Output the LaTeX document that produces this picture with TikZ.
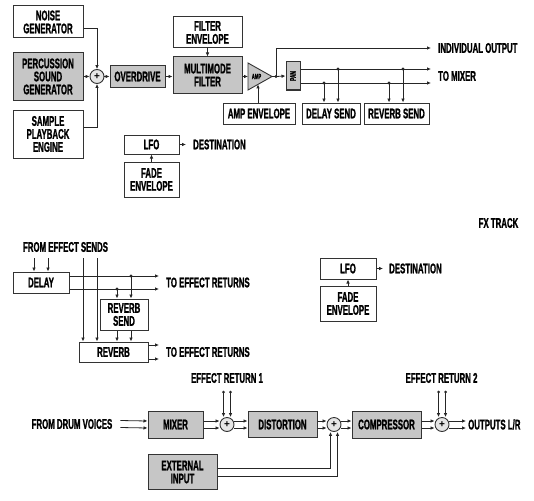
\documentclass[tikz,border=0pt]{standalone}
\usepackage{fontspec}
\newfontfamily\labfont{Liberation Sans Bold}[FakeStretch=0.56, FakeBold=1.2]
\newfontfamily\plusfont{Liberation Sans Bold}
\newcommand\mylab{\labfont\fontsize{14}{13}\selectfont}
\newcommand\mysmall{\labfont\fontsize{8.5}{8.5}\selectfont}
\usetikzlibrary{arrows.meta}
\tikzset{
  box/.style={draw=black!80, line width=1pt, inner sep=0pt, align=center, font=\mylab, fill=white},
  gbox/.style={box, fill=gray!45},
  sumnode/.style={circle, draw=black!80, line width=0.9pt, fill=gray!20, minimum size=14pt, inner sep=0pt, font=\plusfont\fontsize{10}{10}\selectfont},
  lbl/.style={inner sep=0pt, font=\mylab, align=center},
  arr/.style={-{Latex[length=4pt,width=3.6pt]}, line width=0.8pt, draw=black!85},
  ln/.style={line width=0.8pt, draw=black!85},
  dotc/.style={fill=black!85}
}
\begin{document}
\begin{tikzpicture}[x=1pt,y=-1pt]
\useasboundingbox (0,0) rectangle (534,500);
% ---------------- top voice section
\node[box, minimum width=70pt, minimum height=32pt] (noise) at (48,22) {NOISE\\GENERATOR};
\node[gbox, minimum width=70pt, minimum height=48pt] (perc) at (48,76.5) {PERCUSSION\\SOUND\\GENERATOR};
\node[box, minimum width=70pt, minimum height=48pt] (sample) at (48,134) {SAMPLE\\PLAYBACK\\ENGINE};
\node[sumnode] (sum1) at (97,76.5) {+};
\node[gbox, minimum width=55pt, minimum height=22pt] (od) at (137.5,76.5) {OVERDRIVE};
\node[gbox, minimum width=69pt, minimum height=36pt] (filt) at (207.5,75) {MULTIMODE\\FILTER};
\node[box, minimum width=69pt, minimum height=31pt] (fenv) at (207.5,32.5) {FILTER\\ENVELOPE};
\coordinate (ampin) at (248,76.5);
\coordinate (amptip) at (272,76.5);
\draw[line width=0.9pt, draw=black!80, fill=gray!45] (248,63) -- (248,90) -- (amptip) -- cycle;
\node[lbl, font=\labfont\fontsize{7.5}{7.5}\selectfont] (amplbl) at (256.5,76.5) {AMP};
\node[box, minimum width=72pt, minimum height=21pt] (ampenv) at (259,113.5) {AMP ENVELOPE};
\coordinate (ampb) at (258,84.4);
\node[gbox, minimum width=14pt, minimum height=28pt] (pan) at (293,76) {};
\node[lbl, rotate=90, font=\mysmall] at (pan) {PAN};
\node[box, minimum width=58pt, minimum height=21pt] (dsend) at (331,113.5) {DELAY SEND};
\node[box, minimum width=65pt, minimum height=21pt] (rsend) at (396.5,113.5) {REVERB SEND};
\node[lbl, anchor=west] (io) at (438,48) {INDIVIDUAL OUTPUT};
\node[lbl, anchor=west] (tomix) at (438,76) {TO MIXER};
\coordinate (xend) at (431,0);
\coordinate (j1) at (276,76.5);

\draw[arr] ([yshift=-6pt]noise.east) -| (sum1.north);
\draw[arr] ([yshift=7pt]sample.east) -| (sum1.south);
\draw[arr] (perc.east) -- (sum1.west);
\draw[arr] (sum1.east) -- (od.west);
\draw[arr] (od.east) -- (od.east -| filt.west);
\draw[arr] (fenv.south) -- (filt.north);
\draw[arr] (filt.east |- ampin) -- (ampin);
\draw[arr] (ampenv.north -| ampb) -- (ampb);
\draw[ln] (amptip) -- (j1);
\draw[arr] (j1) -- (pan.west);
\draw[arr] (j1) |- (io.west -| xend);
\fill[dotc] (j1) circle (1.6pt);
\draw[arr] ([yshift=7pt]pan.east) -- ([yshift=7pt]pan.east -| xend);
\draw[arr] ([yshift=-7pt]pan.east) -- ([yshift=-7pt]pan.east -| xend);
\coordinate (da) at (338,69);
\coordinate (db) at (324,83);
\coordinate (ra) at (403,69);
\coordinate (rb) at (389,83);
\foreach \p in {da,db,ra,rb} \fill[dotc] (\p) circle (1.6pt);
\draw[arr] (da) -- (da |- dsend.north);
\draw[arr] (db) -- (db |- dsend.north);
\draw[arr] (ra) -- (ra |- rsend.north);
\draw[arr] (rb) -- (rb |- rsend.north);

% LFO top
\node[box, minimum width=55pt, minimum height=19pt] (lfo1) at (151.5,144.5) {LFO};
\node[box, minimum width=55pt, minimum height=35pt] (fade1) at (151.5,179.5) {FADE\\ENVELOPE};
\node[lbl, anchor=west] (dest1) at (193,144.5) {DESTINATION};
\draw[arr] (lfo1.east) -- ([xshift=-7pt]dest1.west);
\draw[arr] (fade1.north) -- (lfo1.south);

% ---------------- FX track
\node[lbl] (fxt) at (498.5,223) {FX TRACK};
\node[box, minimum width=56pt, minimum height=21pt] (lfo2) at (348,268.5) {LFO};
\node[box, minimum width=56pt, minimum height=35pt] (fade2) at (348,303.5) {FADE\\ENVELOPE};
\node[lbl, anchor=west] (dest2) at (389,268.5) {DESTINATION};
\draw[arr] (lfo2.east) -- ([xshift=-6pt]dest2.west);
\draw[arr] (fade2.north) -- (lfo2.south);

\node[lbl] (fes) at (65.5,247) {FROM EFFECT SENDS};
\node[box, minimum width=56pt, minimum height=21pt] (delay) at (41,282.5) {DELAY};
\node[box, minimum width=48pt, minimum height=31pt] (rsend2) at (124,314.5) {REVERB\\SEND};
\node[box, minimum width=69pt, minimum height=20pt] (reverb) at (113.5,352) {REVERB};
\node[lbl, anchor=west] (ter1) at (166,282.5) {TO EFFECT RETURNS};
\node[lbl, anchor=west] (ter2) at (166,352) {TO EFFECT RETURNS};
\coordinate (terx) at (159,0);
\coordinate (fs1) at (34,258);
\coordinate (fs2) at (48,258);
\coordinate (fs3) at (83,258);
\coordinate (fs4) at (97,258);
\draw[arr] (fs1) -- (fs1 |- delay.north);
\draw[arr] (fs2) -- (fs2 |- delay.north);
\draw[arr] ([yshift=6.5pt]delay.east) -- ([yshift=6.5pt]delay.east -| terx);
\draw[arr] ([yshift=-6.5pt]delay.east) -- ([yshift=-6.5pt]delay.east -| terx);
\draw[arr] (fs3) -- (fs3 |- reverb.north);
\draw[arr] (fs4) -- (fs4 |- reverb.north);
\coordinate (ea) at (131,276);
\coordinate (eb) at (117,289);
\fill[dotc] (ea) circle (1.6pt);
\fill[dotc] (eb) circle (1.6pt);
\draw[arr] (ea) -- (ea |- rsend2.north);
\draw[arr] (eb) -- (eb |- rsend2.north);
\draw[arr] (rsend2.south -| ea) -- (reverb.north -| ea);
\draw[arr] (rsend2.south -| eb) -- (reverb.north -| eb);
\draw[arr] ([yshift=7pt]reverb.east) -- ([yshift=7pt]reverb.east -| terx);
\draw[arr] ([yshift=-7pt]reverb.east) -- ([yshift=-7pt]reverb.east -| terx);

% ---------------- bottom chain
\node[lbl] (fdv) at (72,424) {FROM DRUM VOICES};
\node[gbox, minimum width=55pt, minimum height=27pt] (mixer) at (175.5,424.5) {MIXER};
\node[sumnode] (sum2) at (227,424.5) {+};
\node[gbox, minimum width=69pt, minimum height=26pt] (dist) at (282.5,424.5) {DISTORTION};
\node[sumnode] (sum3) at (334,424.5) {+};
\node[gbox, minimum width=69pt, minimum height=27pt] (comp) at (386.5,424.5) {COMPRESSOR};
\node[sumnode] (sum4) at (442,424.5) {+};
\node[gbox, minimum width=69pt, minimum height=35pt] (ext) at (182.5,472) {EXTERNAL\\INPUT};
\node[lbl] (er1) at (227,378) {EFFECT RETURN 1};
\node[lbl] (er2) at (441.5,378) {EFFECT RETURN 2};
\node[lbl, anchor=west] (olr) at (468,424.5) {OUTPUTS L/R};
\coordinate (olrx) at (466,0);

\foreach \s in {3.5,-3.5} {
  \draw[arr] ([xshift=8pt,yshift=\s pt]fdv.east) -- ([yshift=\s pt]mixer.west);
  \draw[arr] ([yshift=\s pt]mixer.east) -- ([yshift=\s pt]mixer.east -| sum2.west);
  \draw[arr] ([yshift=\s pt]sum2.east) -- ([yshift=\s pt]dist.west);
  \draw[arr] ([yshift=\s pt]dist.east) -- ([yshift=\s pt]dist.east -| sum3.west);
  \draw[arr] ([yshift=\s pt]sum3.east) -- ([yshift=\s pt]comp.west);
  \draw[arr] ([yshift=\s pt]comp.east) -- ([yshift=\s pt]comp.east -| sum4.west);
  \draw[arr] ([yshift=\s pt]sum4.east) -- ([yshift=\s pt]sum4.east -| olrx);
}
\coordinate (r1a) at (223.5,392);
\coordinate (r1b) at (230.5,392);
\coordinate (r2a) at (438.5,392);
\coordinate (r2b) at (445.5,392);
\foreach \p/\q in {r1a/sum2,r1b/sum2,r2a/sum4,r2b/sum4} {
  \fill[dotc] (\p) circle (1.5pt);
  \draw[arr] (\p) -- (\p |- \q.north);
}
\draw[arr] ([yshift=4pt]ext.east) -| ([xshift=-3.5pt]sum3.south);
\draw[arr] ([yshift=-4pt]ext.east) -| ([xshift=3.5pt]sum3.south);
\end{tikzpicture}
\end{document}
